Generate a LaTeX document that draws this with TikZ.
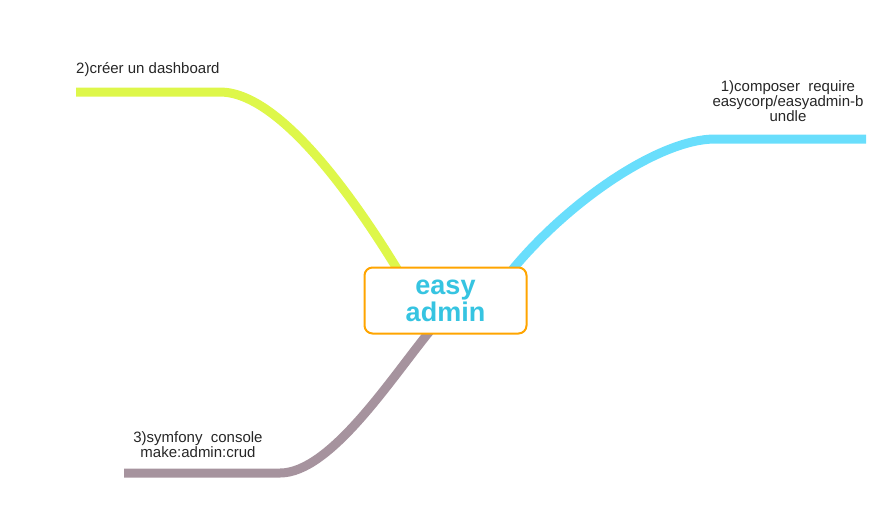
\documentclass[tikz,border=0pt]{standalone}
\usepackage{fontspec}
\setmainfont{Liberation Sans}
\usetikzlibrary{positioning}
\definecolor{rootblue}{HTML}{36C4E1}
\definecolor{rootorange}{HTML}{FFA500}
\definecolor{limeline}{HTML}{DEF74A}
\definecolor{skyline}{HTML}{69DEFC}
\definecolor{mauveline}{HTML}{A6939E}
\pgfdeclarelayer{back}
\pgfsetlayers{back,main}

\begin{document}
\begin{tikzpicture}[x=1pt,y=-1pt,
  branch/.style={line width=9pt},
  leaf/.style={font=\fontsize{15}{15}\selectfont,align=center,inner sep=0pt,text=black!85},
  rootbox/.style={draw=rootorange,line width=2pt,rounded corners=8pt,fill=white,
    minimum width=162pt,minimum height=66pt,text=rootblue,align=center,
    font=\bfseries\fontsize{27}{27}\selectfont}]
\useasboundingbox (0,0) rectangle (892,504);

\node[rootbox] (root) at (445.5,300.5) {easy\\admin};

\node[leaf,anchor=west] (dashboard) at (76,70) {2)créer un dashboard};
\node[leaf] (composer) at (788,101) {1)composer\ \ require\\easycorp/easyadmin-b\\undle};
\node[leaf] (crud) at (198,444.5) {3)symfony\ \ console\\make:admin:crud};

\coordinate (dash-a) at (76,92);
\coordinate (dash-b) at (220,92);
\coordinate (comp-a) at (866,139);
\coordinate (comp-b) at (715,139);
\coordinate (crud-a) at (124,473);
\coordinate (crud-b) at (280,473);

\begin{pgfonlayer}{back}
\draw[branch,limeline] (dash-a) -- (dash-b) .. controls +(60,0) and (355,200) .. ([xshift=-48pt,yshift=-3pt]root.north);
\draw[branch,skyline] (comp-a) -- (comp-b) .. controls +(-55,0) and (570,200) .. ([xshift=67pt,yshift=-3pt]root.north);
\draw[branch,mauveline] (crud-a) -- (crud-b) .. controls +(50,0) and (390,380) .. ([xshift=-16pt,yshift=3pt]root.south);
\end{pgfonlayer}

\end{tikzpicture}
\end{document}
